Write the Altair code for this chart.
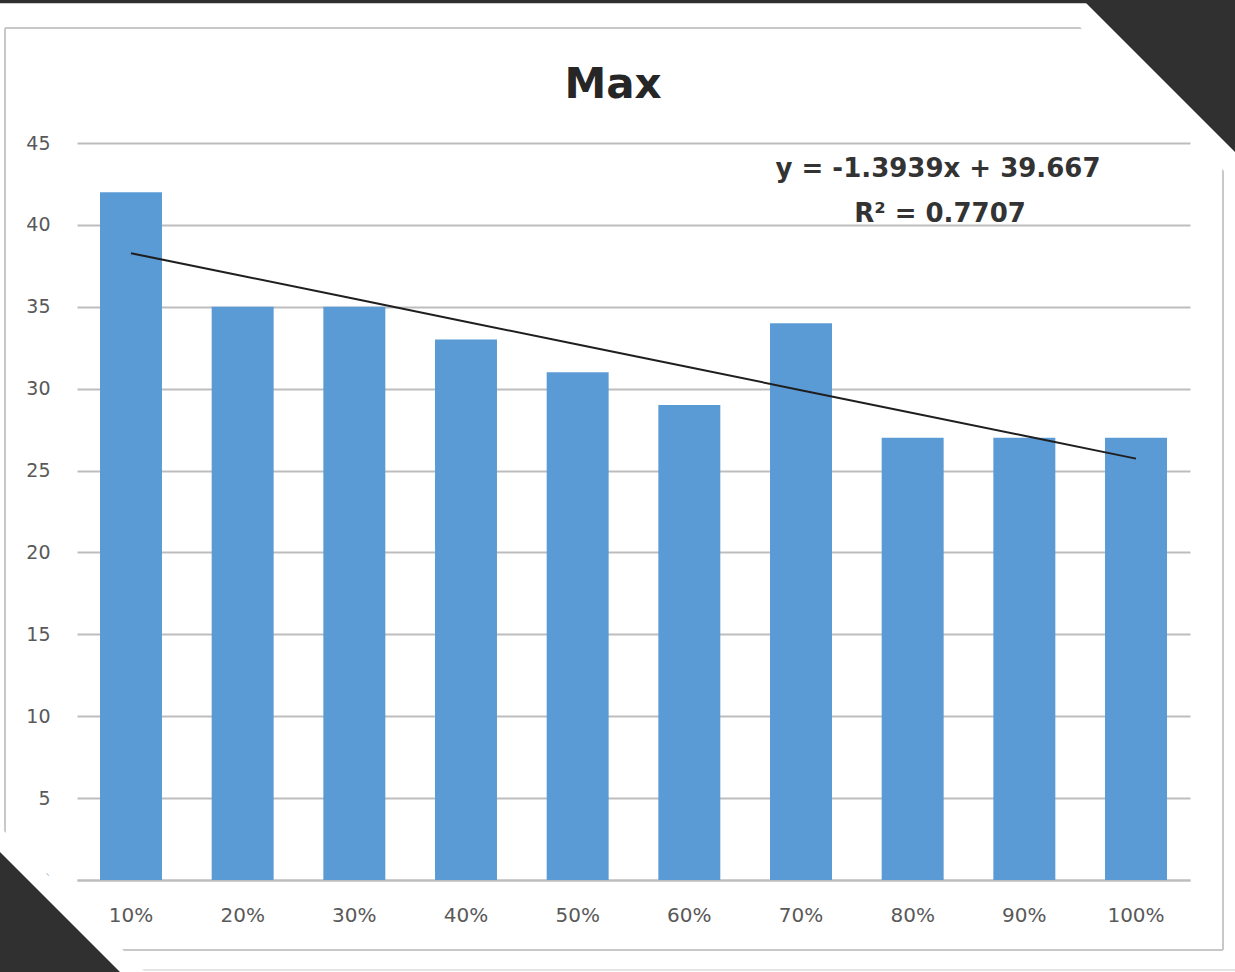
import math
import altair as alt
import pandas as pd

# ---- data -------------------------------------------------------------
categories = ["10%", "20%", "30%", "40%", "50%", "60%", "70%", "80%", "90%", "100%"]
max_values = [42, 35, 35, 33, 31, 29, 34, 27, 27, 27]
y_ticks = [0, 5, 10, 15, 20, 25, 30, 35, 40, 45]

# linear trendline as stated in its label
trend_slope = -1.3939
trend_intercept = 39.667
trend_r2 = 0.7707

trend_values = [trend_slope * (i + 1) + trend_intercept for i in range(len(categories))]

df = pd.DataFrame({"category": categories, "value": max_values, "trend": trend_values})

chart_title = "Max"

# ---- layout -----------------------------------------------------------
PAD_L, PAD_T, PAD_R, PAD_B = 77, 143, 45, 92
PLOT_W, PLOT_H = 1113, 737

FONT = "DejaVu Sans"
BAR_COLOR = "#5B9BD5"
GRID_COLOR = "#bdbdbd"
LABEL_COLOR = "#595959"
BORDER_COLOR = "#c8c8c8"
DARK = "#303030"


def px(x):
    """page x -> plot-group x"""
    return x - PAD_L


def py(y):
    """page y -> plot-group y"""
    return y - PAD_T


one_row = alt.Data(values=[{}])

x_enc = alt.X(
    "category:N",
    sort=categories,
    scale=alt.Scale(paddingInner=0.445, paddingOuter=0.206),
    axis=alt.Axis(
        title=None,
        labelAngle=0,
        labelFont=FONT,
        labelFontSize=20,
        labelColor=LABEL_COLOR,
        labelPadding=25,
        labelBaseline="top",
        ticks=False,
        domainColor=GRID_COLOR,
        domainWidth=2,
        grid=False,
    ),
)

y_enc = alt.Y(
    "value:Q",
    scale=alt.Scale(domain=[0, 45], nice=False),
    axis=alt.Axis(
        values=y_ticks,
        title=None,
        domain=False,
        ticks=False,
        labelPadding=27,
        labelFont=FONT,
        labelFontSize=19,
        labelColor=LABEL_COLOR,
        gridColor=GRID_COLOR,
        gridWidth=2,
    ),
)

bars = alt.Chart(df).mark_bar(color=BAR_COLOR).encode(x=x_enc, y=y_enc)

trend = alt.Chart(df).mark_line(color="#1f1f1f", strokeWidth=2).encode(
    x=alt.X("category:N", sort=categories),
    y=alt.Y("trend:Q"),
)

eq_text = f"y = {trend_slope}x + {trend_intercept}"
r2_text = f"R\u00b2 = {trend_r2}"


def label(text, x, y, size, color="#333333"):
    return alt.Chart(one_row).mark_text(
        font=FONT, fontSize=size, fontWeight="bold", color=color,
        align="center", baseline="alphabetic",
    ).encode(x=alt.value(px(x)), y=alt.value(py(y)), text=alt.value(text))


title_text = label(chart_title, 613, 98, 42, "#262626")
eq_line = label(eq_text, 938, 177, 26)
r2_line = label(r2_text, 940, 222, 26)


# ---- frame around the chart area --------------------------------------
def hline(x1, x2, y, color, w):
    return alt.Chart(one_row).mark_rule(color=color, strokeWidth=w).encode(
        x=alt.value(px(x1)), x2=alt.value(px(x2)), y=alt.value(py(y))
    )


def vline(x, y1, y2, color, w):
    return alt.Chart(one_row).mark_rule(color=color, strokeWidth=w).encode(
        x=alt.value(px(x)), y=alt.value(py(y1)), y2=alt.value(py(y2))
    )


def corner_top_right(c0, color):
    # fills the page region x - y > c0
    c = c0 + 150
    pts = [((c + s) / 2, (s - c) / 2) for s in (700, 1900)]
    return alt.Chart(one_row).mark_rule(
        color=color, strokeWidth=300 / math.sqrt(2), strokeCap="butt"
    ).encode(
        x=alt.value(px(pts[0][0])), y=alt.value(py(pts[0][1])),
        x2=alt.value(px(pts[1][0])), y2=alt.value(py(pts[1][1])),
    )


def corner_bottom_left(c0, color):
    # fills the page region y - x > c0
    c = c0 + 150
    pts = [((s - c) / 2, (s + c) / 2) for s in (500, 1600)]
    return alt.Chart(one_row).mark_rule(
        color=color, strokeWidth=300 / math.sqrt(2), strokeCap="butt"
    ).encode(
        x=alt.value(px(pts[0][0])), y=alt.value(py(pts[0][1])),
        x2=alt.value(px(pts[1][0])), y2=alt.value(py(pts[1][1])),
    )


frame = [
    hline(5, 1223, 28, BORDER_COLOR, 2),
    hline(5, 1223, 950, BORDER_COLOR, 2),
    vline(5, 28, 950, BORDER_COLOR, 2),
    vline(1223, 28, 950, BORDER_COLOR, 2),
    hline(0, 1235, 970, "#dcdcdc", 1.5),
    corner_top_right(1053, "white"),
    corner_bottom_left(827, "white"),
    corner_top_right(1083, DARK),
    corner_bottom_left(852, DARK),
    hline(0, 1235, 1.5, DARK, 3.5),
]

chart = alt.layer(bars, trend, title_text, eq_line, r2_line, *frame).properties(
    width=PLOT_W,
    height=PLOT_H,
    autosize=alt.AutoSizeParams(type="none"),
    padding={"left": PAD_L, "top": PAD_T, "right": PAD_R, "bottom": PAD_B},
    background="white",
).configure_view(stroke=None)

chart.save("out.html", embed_options={"renderer": "svg", "actions": False})
